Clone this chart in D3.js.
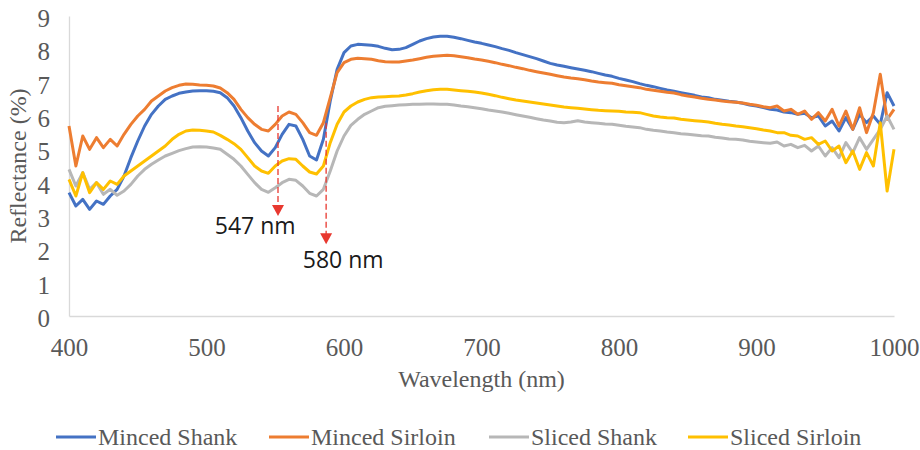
<!DOCTYPE html>
<html>
<head>
<meta charset="utf-8">
<script src="https://cdn.jsdelivr.net/npm/d3@7"></script>
<style>
  body { margin: 0; background: #fff; }
  .tick text { fill: #595959; font-family: "Liberation Serif", "Times New Roman", serif; font-size: 25px; }
</style>
</head>
<body>
<div class="chart"></div>
<script>
// wavelengths every 5 nm, 400..1000
var wavelengths = d3.range(400, 1001, 5);

var mincedShank = [
  3.7, 3.3, 3.5, 3.2, 3.45, 3.35, 3.6, 3.8, 4.2, 4.75,
  5.25, 5.7, 6.05, 6.3, 6.5, 6.6, 6.68, 6.72, 6.75, 6.76,
  6.76, 6.74, 6.7, 6.55, 6.3, 5.95, 5.55, 5.2, 4.95, 4.8,
  5.05, 5.45, 5.75, 5.7, 5.3, 4.8, 4.68, 5.3, 6.45, 7.4,
  7.9, 8.1, 8.15, 8.14, 8.12, 8.09, 8.03, 7.99, 8.0, 8.05,
  8.15, 8.25, 8.32, 8.37, 8.39, 8.39, 8.36, 8.32, 8.27, 8.22,
  8.18, 8.13, 8.08, 8.02, 7.97, 7.9, 7.84, 7.78, 7.72, 7.65,
  7.58, 7.53, 7.49, 7.45, 7.41, 7.37, 7.33, 7.28, 7.23, 7.19,
  7.13, 7.08, 7.03, 6.97, 6.92, 6.88, 6.83, 6.78, 6.74, 6.7,
  6.66, 6.62, 6.57, 6.55, 6.5, 6.47, 6.44, 6.42, 6.38, 6.33,
  6.3, 6.25, 6.2, 6.18, 6.12, 6.1, 6.05, 6.08, 5.95, 6.0,
  5.7, 5.85, 5.55, 5.95, 5.6, 6.05, 5.8, 6.0, 5.75, 6.7,
  6.3
];

var mincedSirloin = [
  5.7, 4.5, 5.4, 5.0, 5.35, 5.05, 5.3, 5.1, 5.45, 5.75,
  6.0, 6.2, 6.45, 6.6, 6.75, 6.85, 6.92, 6.96, 6.95, 6.93,
  6.92, 6.9, 6.84, 6.7, 6.5, 6.2, 5.95, 5.75, 5.6, 5.55,
  5.75, 6.0, 6.12, 6.05, 5.8, 5.5, 5.42, 5.8, 6.55, 7.3,
  7.6, 7.7, 7.73, 7.72, 7.7, 7.66, 7.63, 7.62, 7.62, 7.65,
  7.68, 7.72, 7.76, 7.79, 7.81, 7.82, 7.81, 7.78, 7.75, 7.71,
  7.68, 7.64, 7.6, 7.55, 7.51, 7.46, 7.42, 7.37, 7.33, 7.29,
  7.25, 7.21, 7.17, 7.14, 7.12, 7.09, 7.05, 7.02, 7.0, 6.98,
  6.94, 6.91, 6.88, 6.85, 6.8, 6.77, 6.74, 6.71, 6.69, 6.64,
  6.6, 6.57, 6.53, 6.5, 6.48, 6.45, 6.43, 6.41, 6.39, 6.35,
  6.32, 6.28, 6.25, 6.3, 6.15, 6.2, 6.05, 6.15, 5.9, 6.1,
  5.85, 6.2, 5.7, 6.15, 5.6, 6.25, 5.5, 6.1, 7.25, 5.9,
  6.2
];

var slicedShank = [
  4.4, 3.9, 4.3, 3.8, 4.0, 3.65, 3.8, 3.62, 3.75, 3.95,
  4.2, 4.4, 4.55, 4.68, 4.8, 4.88, 4.96, 5.02, 5.07, 5.08,
  5.07, 5.04, 5.0, 4.85, 4.7, 4.5, 4.25, 4.0, 3.8, 3.71,
  3.85, 4.0, 4.1, 4.07, 3.9, 3.68, 3.6, 3.8, 4.35, 4.95,
  5.4, 5.72, 5.9, 6.05, 6.15, 6.25, 6.29, 6.31, 6.33, 6.34,
  6.35, 6.35, 6.36, 6.36, 6.35, 6.35, 6.33, 6.3, 6.28, 6.25,
  6.22, 6.18, 6.15, 6.12, 6.08, 6.04, 6.0, 5.96, 5.92, 5.88,
  5.85, 5.81, 5.8, 5.82, 5.86, 5.82, 5.8, 5.78, 5.76, 5.75,
  5.72, 5.69, 5.67, 5.65, 5.6, 5.57, 5.55, 5.52, 5.5, 5.47,
  5.45, 5.43, 5.41, 5.4, 5.36, 5.34, 5.31, 5.3, 5.28, 5.24,
  5.22, 5.2, 5.18, 5.22, 5.1, 5.15, 5.05, 5.12, 4.95, 5.1,
  4.8, 5.05, 4.75, 5.2, 4.9, 5.35, 5.0, 5.3, 5.6, 6.0,
  5.6
];

var slicedSirloin = [
  4.1, 3.6, 4.3, 3.7, 4.0, 3.8, 4.05, 3.95, 4.2, 4.35,
  4.5, 4.65, 4.8, 4.95, 5.1, 5.3, 5.45, 5.55, 5.58, 5.57,
  5.55, 5.52, 5.42, 5.3, 5.17, 5.0, 4.75, 4.5, 4.35, 4.28,
  4.5, 4.65, 4.72, 4.7, 4.5, 4.32, 4.26, 4.5, 5.2, 5.75,
  6.12, 6.3, 6.42, 6.5, 6.55, 6.57, 6.58, 6.59, 6.6, 6.63,
  6.67, 6.72, 6.76, 6.79, 6.8, 6.8, 6.78, 6.76, 6.74, 6.72,
  6.69, 6.65, 6.61, 6.56, 6.52, 6.48, 6.45, 6.42, 6.39, 6.36,
  6.33, 6.3, 6.27, 6.25, 6.23, 6.21, 6.19, 6.17, 6.16, 6.15,
  6.14, 6.12, 6.11, 6.1, 6.05, 6.0, 5.97, 5.95, 5.94, 5.9,
  5.88, 5.86, 5.84, 5.82, 5.78, 5.75, 5.73, 5.7, 5.68, 5.65,
  5.62, 5.58, 5.55, 5.5, 5.5, 5.42, 5.4, 5.3, 5.35, 5.15,
  5.25, 4.95, 5.1, 4.6, 4.95, 4.4, 4.9, 4.5, 5.8, 3.75,
  5.0
];

var seriesNames = ["Minced Shank", "Minced Sirloin", "Sliced Shank", "Sliced Sirloin"];
var seriesValues = [mincedShank, mincedSirloin, slicedShank, slicedSirloin];
var seriesColors = ["#4472C4", "#ED7D31", "#B7B7B7", "#FFC000"];

var xTicks = [400, 500, 600, 700, 800, 900, 1000];
var yTicks = [0, 1, 2, 3, 4, 5, 6, 7, 8, 9];

// arrows: wavelength where drawn, top/bottom reflectance, label
var annotations = [
  { label: "547 nm", x: 552, yTop: 6.3, yTip: 3.0, labelX: 506, labelY: 2.45 },
  { label: "580 nm", x: 587, yTop: 5.8, yTip: 2.15, labelX: 570, labelY: 1.43 }
];

var svgWidth = 920;
var svgHeight = 450;
var margin = { top: 16, right: 26, bottom: 134, left: 69 };
var width = svgWidth - margin.left - margin.right;
var height = svgHeight - margin.top - margin.bottom;

var serif = "'Liberation Serif', 'Times New Roman', serif";

var svg = d3.select(".chart")
  .append("svg")
  .attr("width", svgWidth)
  .attr("height", svgHeight)
  .style("font-family", serif);

var chart = svg.append("g")
  .attr("transform", "translate(" + margin.left + "," + margin.top + ")");

var xScale = d3.scaleLinear().domain([400, 1000]).range([0, width]);
var yScale = d3.scaleLinear().domain([0, 9]).range([height, 0]);

var bottomAxis = d3.axisBottom(xScale).tickValues(xTicks).tickFormat(d3.format("d")).tickSize(0).tickPadding(22);
var leftAxis = d3.axisLeft(yScale).tickValues(yTicks).tickFormat(d3.format("d")).tickSize(0).tickPadding(19);

var xAxisG = chart.append("g")
  .attr("transform", "translate(0," + height + ")")
  .call(bottomAxis);
xAxisG.select(".domain").attr("stroke", "#D9D9D9").attr("stroke-width", 1.3);

var yAxisG = chart.append("g")
  .call(leftAxis);
yAxisG.select(".domain").attr("stroke", "#D9D9D9").attr("stroke-width", 1.3);
yAxisG.selectAll("text").attr("dy", "0.42em");

// series lines
var line = d3.line()
  .x(function(d, i) { return xScale(wavelengths[i]); })
  .y(function(d) { return yScale(d); });

seriesValues.forEach(function(vals, i) {
  chart.append("path")
    .datum(vals)
    .attr("fill", "none")
    .attr("stroke", seriesColors[i])
    .attr("stroke-width", 3)
    .attr("stroke-linejoin", "round")
    .attr("d", line);
});

// annotation arrows
var red = "#E8382F";
annotations.forEach(function(a) {
  var ax = xScale(a.x);
  var tipY = yScale(a.yTip);
  chart.append("line")
    .attr("x1", ax).attr("x2", ax)
    .attr("y1", yScale(a.yTop)).attr("y2", tipY - 10)
    .attr("stroke", red)
    .attr("stroke-width", 1.3)
    .attr("stroke-dasharray", "6,3");
  chart.append("path")
    .attr("d", "M" + (ax - 6) + "," + (tipY - 11) + "L" + (ax + 6) + "," + (tipY - 11) + "L" + ax + "," + tipY + "Z")
    .attr("fill", red);
  chart.append("text")
    .attr("x", xScale(a.labelX))
    .attr("y", yScale(a.labelY))
    .style("font-family", "'Open Sans', sans-serif")
    .attr("font-size", "23px")
    .attr("fill", "#1a1a1a")
    .text(a.label);
});

// axis titles
svg.append("text")
  .attr("x", margin.left + width / 2)
  .attr("y", 387)
  .attr("text-anchor", "middle")
  .attr("font-size", "24px")
  .attr("fill", "#595959")
  .text("Wavelength (nm)");

svg.append("text")
  .attr("transform", "translate(26," + (margin.top + height / 2) + ") rotate(-90)")
  .attr("text-anchor", "middle")
  .attr("font-size", "24px")
  .attr("fill", "#595959")
  .text("Reflectance (%)");

// legend
var legendX = [56, 269, 489, 688];
var legend = svg.append("g").attr("transform", "translate(0,437)");
seriesNames.forEach(function(name, i) {
  legend.append("line")
    .attr("x1", legendX[i]).attr("x2", legendX[i] + 40)
    .attr("y1", 0).attr("y2", 0)
    .attr("stroke", seriesColors[i])
    .attr("stroke-width", 3);
  legend.append("text")
    .attr("x", legendX[i] + 42)
    .attr("y", 8)
    .attr("font-size", "24px")
    .attr("fill", "#595959")
    .text(name);
});
</script>
</body>
</html>
